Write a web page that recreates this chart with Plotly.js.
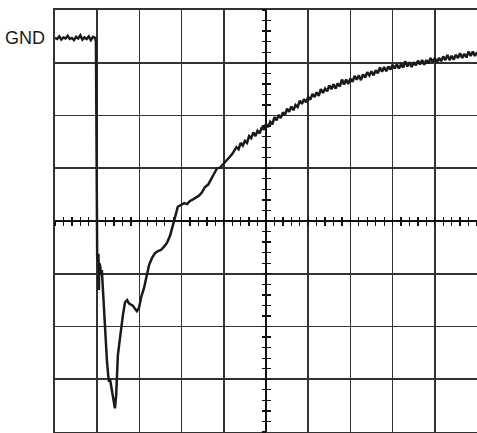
<!DOCTYPE html>
<html>
<head>
<meta charset="utf-8">
<script src="https://cdn.plot.ly/plotly-3.0.1.min.js"></script>
<style>html,body{margin:0;padding:0;background:#fff;}#chart{width:477px;height:433px;}</style>
</head>
<body>
<div id="chart"></div>
<script>
// Oscilloscope trace, in screen divisions (10 horizontal x 8 vertical), origin at screen centre
var gndLevel = 3.47;
var gndLabel = 'GND';

var timeDiv = [
  0,0.05,0.10,0.15,0.20,0.25,0.30,0.35,0.40,0.45,0.50,0.55,0.60,0.65,0.70,0.75,0.80,0.85,0.90,0.95,
  0.97,0.98,0.99,1.00,1.02,1.03,1.04,1.05,1.07,1.09,1.11,1.14,1.18,1.21,1.23,1.26,1.28,1.30,1.33,1.35,1.37,1.42,
  1.45,1.47,1.49,1.52,1.56,1.61,1.66,1.71,1.75,1.80,1.85,1.90,1.94,1.99,2.04,2.11,2.18,2.23,2.30,2.37,2.44,2.51,
  2.58,2.65,2.73,2.80,2.87,2.91,2.99,3.06,3.13,3.20,3.27,3.34,3.41,3.48,3.55,3.63,3.70,3.77,3.84,3.91,3.98,4.05,
  4.12,4.19,
  4.30,4.35,4.40,4.45,4.50,4.55,4.60,4.65,4.70,4.75,4.80,4.85,4.90,4.95,5.00,
  5.05,5.10,5.15,5.20,5.25,5.30,5.35,5.40,5.45,5.50,5.55,5.60,5.65,5.70,5.75,5.80,5.85,5.90,5.95,6.00,
  6.05,6.10,6.15,6.20,6.25,6.30,6.35,6.40,6.45,6.50,6.55,6.60,6.65,6.70,6.75,6.80,6.85,6.90,6.95,7.00,
  7.05,7.10,7.15,7.20,7.25,7.30,7.35,7.40,7.45,7.50,7.55,7.60,7.65,7.70,7.75,7.80,7.85,7.90,7.95,8.00,
  8.05,8.10,8.15,8.20,8.25,8.30,8.35,8.40,8.45,8.50,8.55,8.60,8.65,8.70,8.75,8.80,8.85,8.90,8.95,9.00,
  9.05,9.10,9.15,9.20,9.25,9.30,9.35,9.40,9.45,9.50,9.55,9.60,9.65,9.70,9.75,9.80,9.85,9.90,9.95,10.00
];
var voltDiv = [
  3.47,3.45,3.50,3.44,3.48,3.46,3.51,3.45,3.47,3.43,3.49,3.46,3.52,3.44,3.48,3.45,3.50,3.43,3.49,3.47,
  3.40,1.00,-0.50,-0.70,-0.78,-0.62,-1.31,-0.80,-0.85,-1.02,-0.93,-1.40,-1.88,-2.26,-2.64,-2.92,-3.05,-2.98,-3.13,-3.20,-3.36,-3.55,
  -3.30,-2.86,-2.54,-2.35,-2.07,-1.78,-1.54,-1.50,-1.56,-1.58,-1.61,-1.67,-1.71,-1.65,-1.45,-1.27,-0.97,-0.83,-0.70,-0.61,-0.57,-0.55,
  -0.49,-0.42,-0.27,-0.08,0.15,0.27,0.30,0.34,0.32,0.38,0.41,0.44,0.48,0.54,0.64,0.69,0.79,0.88,1.00,1.01,1.07,1.15,
  1.20,1.26,
  1.40,1.36,1.48,1.43,1.52,1.48,1.61,1.57,1.68,1.61,1.71,1.66,1.78,1.73,1.84,
  1.78,1.88,1.83,1.97,1.91,2.01,1.95,2.06,2.01,2.13,2.07,2.17,2.10,2.20,2.16,2.28,2.22,2.31,2.25,2.35,
  2.30,2.41,2.35,2.44,2.37,2.50,2.43,2.51,2.46,2.57,2.50,2.59,2.51,2.61,2.55,2.68,2.59,2.68,2.60,2.70,
  2.64,2.75,2.68,2.76,2.67,2.78,2.72,2.82,2.76,2.84,2.76,2.86,2.80,2.91,2.83,2.92,2.84,2.93,2.87,2.96,
  2.89,2.97,2.89,2.97,2.91,3.03,2.93,3.01,2.92,3.01,2.95,3.04,2.97,3.05,2.96,3.05,2.99,3.09,3.01,3.09,
  3.00,3.09,3.03,3.12,3.05,3.15,3.05,3.13,3.06,3.15,3.09,3.18,3.09,3.17,3.10,3.21,3.13,3.21,3.13,3.20
];

// shift horizontal divisions so the screen centre is 0
var xs = timeDiv.map(function(t){ return t - 5; });

var gridCol = '#333333';
function overlayAxis(extra){
  var a = {showgrid:false, zeroline:false, showline:false, showticklabels:false,
           ticklen:4, tickwidth:1.3, tickcolor:'#111', dtick:0.2, tick0:0, fixedrange:true};
  for (var k in extra) a[k] = extra[k];
  return a;
}

var traces = [
  {x: xs, y: voltDiv, type:'scatter', mode:'lines', line:{color:'#1a1a1a', width:2.5}, hoverinfo:'skip'},
  {x: [], y: [], xaxis:'x2', yaxis:'y2', type:'scatter'},
  {x: [], y: [], xaxis:'x3', yaxis:'y3', type:'scatter'}
];

var layout = {
  width:477, height:433,
  margin:{l:55, r:0, t:10, b:1},
  paper_bgcolor:'#fff', plot_bgcolor:'#fff',
  showlegend:false,
  xaxis:{range:[-5,5], dtick:1, tick0:0, showgrid:true, gridcolor:gridCol, gridwidth:1.6,
         zeroline:true, zerolinecolor:'#111', zerolinewidth:2,
         showline:true, mirror:true, linecolor:gridCol, linewidth:1.6,
         ticks:'', showticklabels:false, fixedrange:true},
  yaxis:{range:[-4,4], dtick:1, tick0:0, showgrid:true, gridcolor:gridCol, gridwidth:1.6,
         zeroline:true, zerolinecolor:'#111', zerolinewidth:2.5,
         showline:true, mirror:true, linecolor:gridCol, linewidth:1.6,
         ticks:'', showticklabels:false, fixedrange:true},
  xaxis2: overlayAxis({overlaying:'x', anchor:'free', position:0.5, range:[-5,5], ticks:'outside'}),
  yaxis2: overlayAxis({overlaying:'y', anchor:'free', position:0.5, range:[-4,4], ticks:'outside'}),
  xaxis3: overlayAxis({overlaying:'x', anchor:'free', position:0.5, range:[-5,5], ticks:'inside'}),
  yaxis3: overlayAxis({overlaying:'y', anchor:'free', position:0.5, range:[-4,4], ticks:'inside'}),
  annotations:[
    {xref:'paper', yref:'y', x:0, y:gndLevel, xanchor:'right', yanchor:'middle', xshift:-8,
     text:gndLabel, showarrow:false, font:{family:'Liberation Sans, Arial, sans-serif', size:18, color:'#1a1a1a'}}
  ]
};

Plotly.newPlot('chart', traces, layout, {displayModeBar:false, staticPlot:true});
</script>
</body>
</html>
